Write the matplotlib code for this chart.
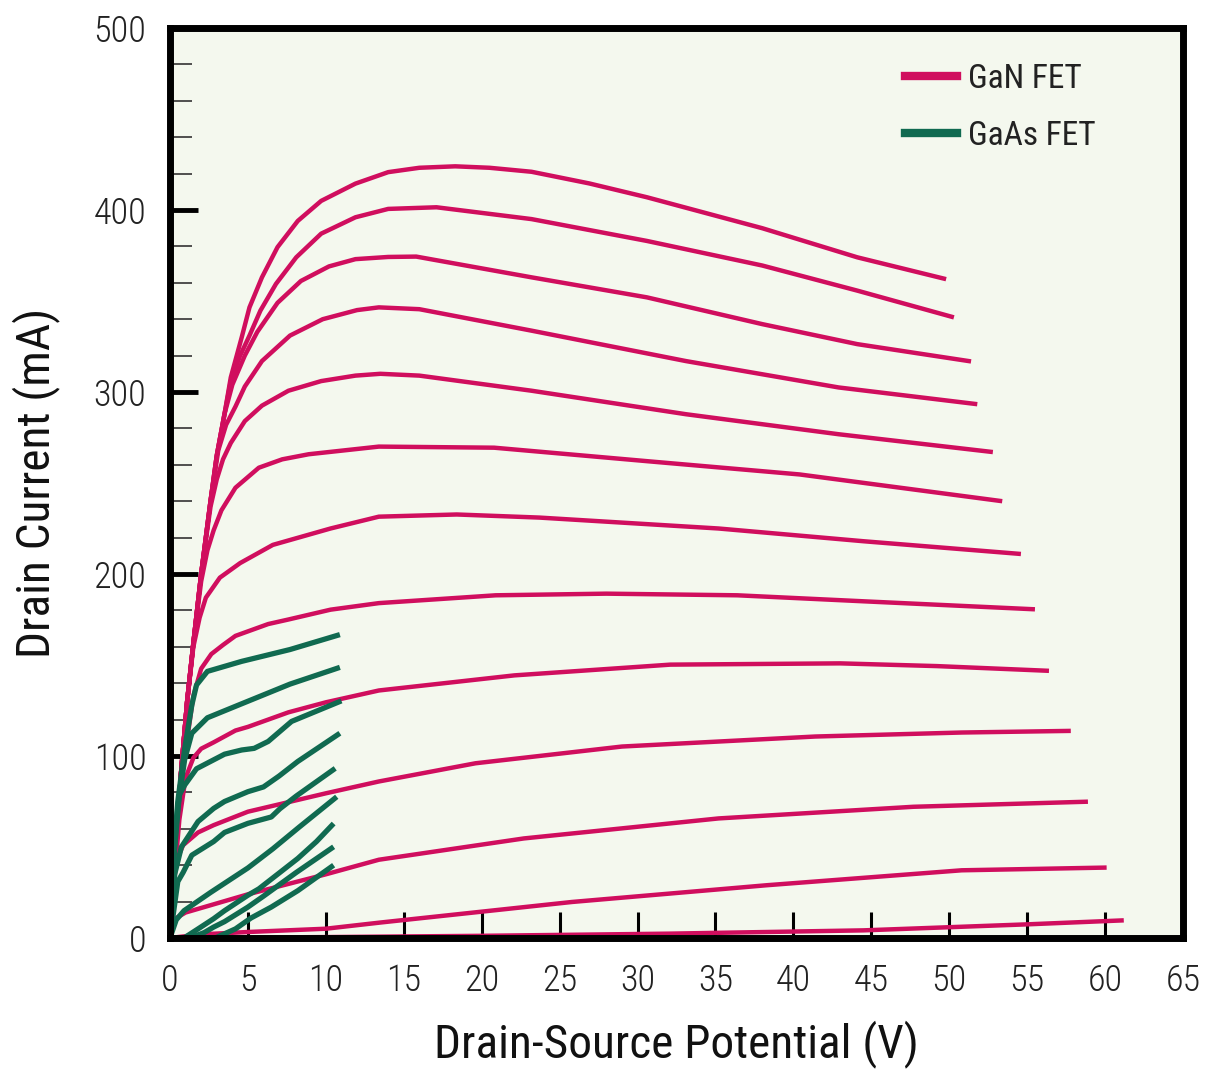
import matplotlib
matplotlib.use("Agg")
import matplotlib.pyplot as plt

# drain-source voltage (V), drain current (mA)
gan_1 = [(0, 0), (0.3, 40), (0.7, 90), (1.1, 130), (1.5, 162), (2.0, 200), (2.6, 240), (3.0, 265), (3.5, 288), (3.9, 308), (4.6, 330), (5.1, 346.5), (5.9, 363), (6.9, 379.6), (8.2, 394), (9.7, 405), (11.9, 414.5), (14, 420.8), (16, 423.2), (18.3, 424), (20.5, 423.2), (23.2, 421), (26.9, 414.6), (30.6, 407), (38, 390), (44.1, 374), (49.8, 362)]
gan_2 = [(0, 0), (0.3, 40), (0.7, 90), (1.1, 130), (1.5, 162), (2.0, 200), (2.6, 240), (3.0, 265), (3.5, 288), (3.9, 306), (4.5, 320), (5.1, 331), (5.8, 344.7), (6.8, 359.4), (8.1, 374), (9.7, 387), (11.9, 396), (14, 400.6), (17.1, 401.5), (23.2, 395), (30.6, 383), (38, 369.5), (44.1, 355.7), (50.3, 341)]
gan_3 = [(0, 0), (0.3, 40), (0.7, 90), (1.1, 130), (1.5, 162), (2.0, 200), (2.6, 240), (3.0, 265), (3.5, 288), (4.0, 304), (4.8, 320), (5.6, 333), (6.9, 349), (8.4, 361), (10.2, 369), (11.9, 373), (14, 374.2), (15.8, 374.4), (23.2, 363), (30.6, 352), (38, 337.3), (44.1, 326.3), (51.4, 316.8)]
gan_4 = [(0, 0), (0.3, 40), (0.7, 90), (1.1, 130), (1.5, 162), (2.0, 200), (2.6, 240), (3.1, 268), (3.6, 282), (4.2, 292), (4.8, 303), (5.9, 317), (7.7, 331), (9.8, 340), (12, 345), (13.4, 346.5), (16, 345.5), (23.2, 333.7), (33.1, 317), (42.9, 302.5), (51.8, 293.3)]
gan_5 = [(0, 0), (0.3, 40), (0.7, 90), (1.1, 130), (1.5, 162), (2.0, 200), (2.6, 237), (3.0, 252), (3.4, 263), (3.9, 272), (4.8, 284), (5.9, 292.5), (7.6, 300.7), (9.7, 306), (11.9, 309), (13.5, 310), (16, 309), (23.2, 300.7), (33.1, 287.8), (42.9, 276.8), (52.8, 267)]
gan_6 = [(0, 0), (0.3, 40), (0.7, 90), (1.1, 130), (1.5, 162), (2.0, 196), (2.4, 213), (2.8, 224), (3.3, 235), (4.2, 247.4), (5.7, 258.4), (7.2, 263), (8.9, 265.8), (13.4, 270), (20.8, 269.4), (30.6, 262), (40.4, 254.7), (53.4, 240)]
gan_7 = [(0, 0), (0.3, 40), (0.7, 90), (1.1, 130), (1.5, 160), (1.9, 176), (2.3, 187), (3.2, 198), (4.5, 206), (6.6, 216), (10.3, 225), (13.4, 231.5), (18.4, 232.7), (23.7, 231), (35.2, 225), (44.5, 218), (54.6, 211)]
gan_8 = [(0, 0), (0.3, 38), (0.7, 85), (1.2, 115), (1.5, 133), (2.0, 148), (2.65, 156), (3.4, 161), (4.2, 166), (6.3, 172.5), (7.6, 175), (10.3, 180.4), (13.4, 184), (20.9, 188.3), (28, 189.2), (36.4, 188.3), (44.5, 185), (55.5, 180.6)]
gan_9 = [(0, 0), (0.3, 35), (0.6, 65), (1.0, 88), (1.5, 99), (2.0, 104), (2.8, 107.5), (4.2, 114), (5.0, 116), (7.6, 124), (10, 129.5), (13.4, 136), (22.1, 144.3), (32.1, 150.2), (43, 150.9), (49.2, 149.4), (56.4, 146.8)]
gan_10 = [(0, 0), (0.2, 25), (0.4, 42), (0.84, 51), (1.8, 58), (2.8, 62), (5, 69.4), (10, 79.5), (13.4, 86), (19.6, 96), (29, 105.2), (41.4, 110.7), (50.8, 112.9), (57.8, 113.8)]
gan_11 = [(0, 0), (0.2, 10), (1, 14), (2.8, 18.5), (5, 24), (10, 35), (13.4, 43), (22.7, 54.7), (35.2, 65.7), (47.7, 72.1), (58.9, 74.9)]
gan_12 = [(0, 0), (2, 2), (5, 3.3), (10, 5.1), (13.5, 8.5), (25.8, 19.8), (38.3, 29), (50.8, 37.2), (60.1, 38.7)]
gan_13 = [(0, 0), (10, 0.5), (20, 1.2), (32.1, 2.4), (44.5, 4.2), (55, 7.5), (61.2, 9.7)]

gaas_1 = [(0, 0), (0.1, 31), (0.5, 75), (0.94, 104), (1.4, 128), (1.7, 139), (2.4, 146.5), (4.6, 152), (7.7, 158.5), (10.9, 166.7)]
gaas_2 = [(0, 0), (0.1, 30), (0.5, 72), (0.94, 98), (1.4, 112.5), (2.4, 121), (4.4, 128), (7.7, 139.5), (10.9, 148.7)]
gaas_3 = [(0, 0), (0.2, 40), (0.6, 78.6), (0.94, 84), (1.7, 93), (3.5, 101), (4.6, 103.3), (5.4, 104.2), (6.3, 108), (7.8, 119), (11, 130.3)]
gaas_4 = [(0, 0), (0.3, 35), (0.73, 50), (1.8, 64), (2.8, 71.2), (3.5, 75), (5, 80.4), (6, 83), (7, 89), (8.2, 97), (10.9, 112.5)]
gaas_5 = [(0, 0), (0.5, 31), (0.84, 36), (1.4, 45.5), (2.8, 53), (3.5, 58), (5, 63), (6.5, 66.5), (7.05, 71), (8.1, 78), (10.6, 93.2)]
gaas_6 = [(0, 0), (0.4, 10), (0.9, 15), (2.6, 25), (5, 38.5), (6.6, 49), (8.3, 61), (10.7, 77.6)]
gaas_7 = [(0.9, 0), (1.8, 5), (2.8, 10.6), (3.5, 15), (5, 23.5), (5.7, 27), (7.05, 36), (8.2, 43.7), (9.4, 53), (10.5, 62.9)]
gaas_8 = [(1.3, 0), (2.2, 3), (2.8, 6), (3.5, 9), (5, 17), (6, 23), (8.1, 36), (10.5, 50.1)]
gaas_9 = [(2.9, 0), (4.2, 5), (5.2, 11), (6.5, 17), (8.2, 26), (10.5, 40)]

gan_curves = [gan_1, gan_2, gan_3, gan_4, gan_5, gan_6, gan_7, gan_8, gan_9, gan_10, gan_11, gan_12, gan_13]
gaas_curves = [gaas_1, gaas_2, gaas_3, gaas_4, gaas_5, gaas_6, gaas_7, gaas_8, gaas_9]

x_ticks = list(range(0, 70, 5))
y_ticks = [0, 100, 200, 300, 400, 500]

GAN_COLOR = "#D00E5E"
GAAS_COLOR = "#106A50"
BG = "#F4F8EE"

plt.rcParams["font.family"] = ["Roboto Condensed", "Liberation Sans", "DejaVu Sans"]

fig = plt.figure(figsize=(12.05, 10.70), dpi=100)
ax = fig.add_axes([170 / 1205, 132 / 1070, 1013 / 1205, 910 / 1070])
ax.set_facecolor(BG)

for c in gan_curves:
    v, i = zip(*c)
    ax.plot(v, i, color=GAN_COLOR, lw=3.2, solid_joinstyle="round", solid_capstyle="butt", zorder=2)
for c in gaas_curves:
    v, i = zip(*c)
    ax.plot(v, i, color=GAAS_COLOR, lw=3.8, solid_joinstyle="round", solid_capstyle="butt", zorder=3)

ax.set_xlim(0, 65)
ax.set_ylim(0, 500)

for s in ax.spines.values():
    s.set_linewidth(5)
    s.set_color("black")
    s.set_zorder(5)

ax.set_xticks(x_ticks)
ax.set_yticks(y_ticks)
ax.set_yticks(range(0, 501, 20), minor=True)
ax.tick_params(axis="x", direction="in", length=19, width=2.2, color="black", pad=18,
               labelsize=26, labelcolor="#222222", top=False)
ax.tick_params(axis="y", which="major", direction="in", length=20, width=3.5, color="black",
               pad=17, labelsize=26, labelcolor="#222222", right=False)
ax.tick_params(axis="y", which="minor", direction="in", length=16, width=1.2, color="#333333", right=False)
for lab in ax.get_xticklabels() + ax.get_yticklabels():
    lab.set_fontweight("light")

ax.set_xlabel("Drain-Source Potential (V)", fontsize=34, color="#111111", labelpad=15)
ax.set_ylabel("Drain Current (mA)", fontsize=34, color="#111111", labelpad=24)

ax.plot([], [], color=GAN_COLOR, lw=6, label="GaN FET")
ax.plot([], [], color=GAAS_COLOR, lw=6, label="GaAs FET")
ax.legend(loc="upper left", bbox_to_anchor=(0.7256, 0.962), frameon=False, fontsize=24,
          handlelength=1.55, handletextpad=0.35, labelspacing=0.75, borderpad=0,
          borderaxespad=0, labelcolor="#222222")

fig.savefig("out.png", dpi=100, facecolor="white")
